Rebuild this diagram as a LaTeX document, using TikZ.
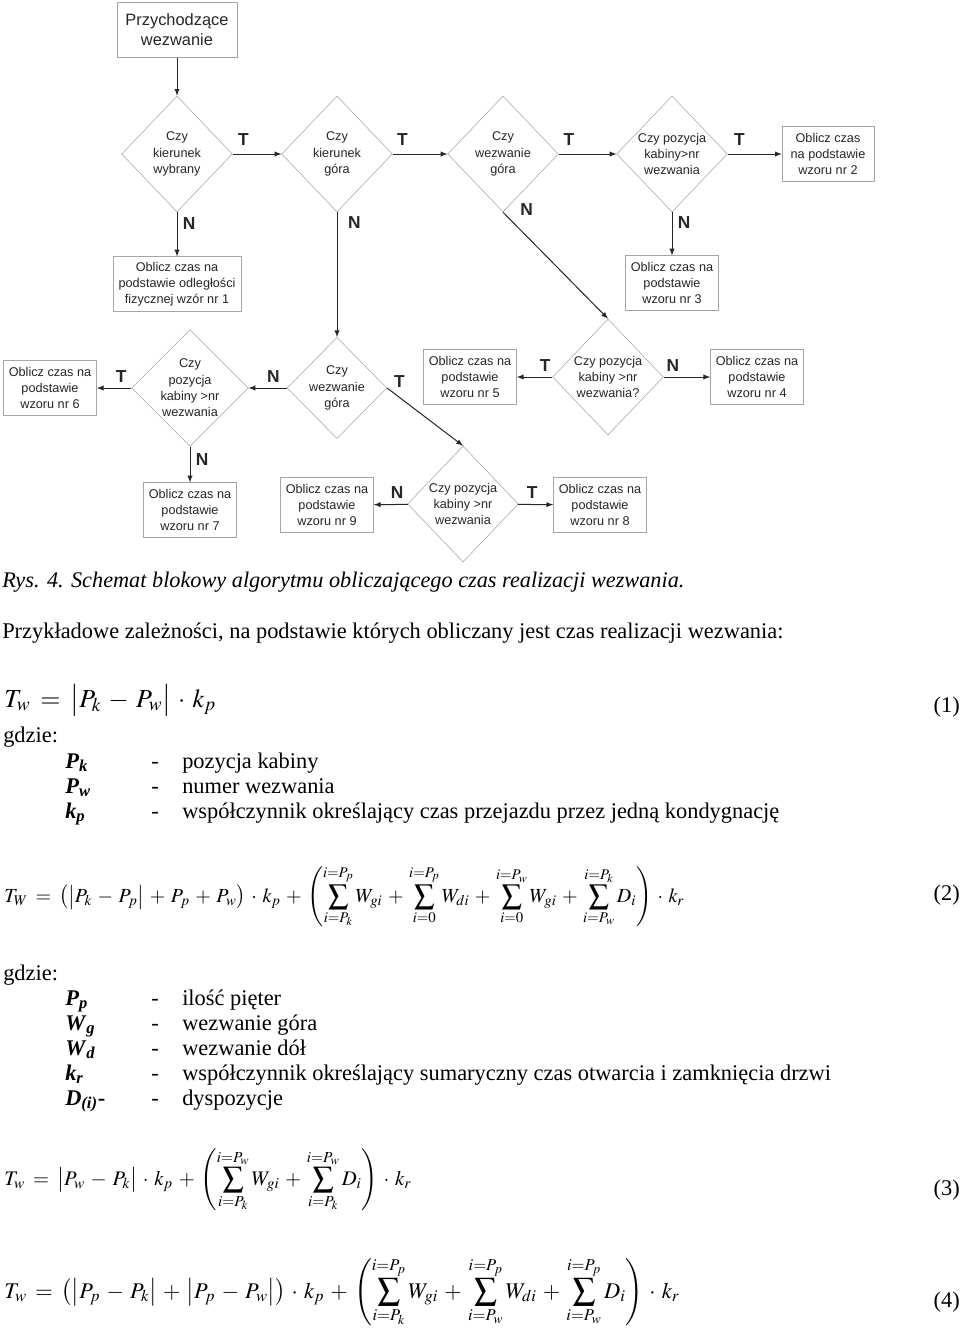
\documentclass[tikz,border=0pt]{standalone}
\usepackage{mathptmx}
\usepackage{fontspec}
\setmainfont{Liberation Serif}
\newfontfamily\diagfont{Liberation Sans}
\usepackage{xcolor}
\usetikzlibrary{shapes.geometric, arrows, positioning}

\newcommand{\legsym}[2]{\textbf{\textit{#1}}\textsubscript{\textbf{\textit{#2}}}}
\newcommand{\wideops}{\thickmuskip=7mu plus 2mu\medmuskip=5mu plus 2mu}

\begin{document}
\begin{tikzpicture}[
    x=0.75pt, y=-0.75pt,
    block/.style={rectangle, draw=gray!70, font=\diagfont\fontsize{9.5}{12.2}\selectfont, text=black!85, align=center, minimum width=69pt, minimum height=41pt, inner xsep=4pt},
    decision/.style={diamond, draw=gray!70, font=\diagfont\fontsize{9.5}{12.2}\selectfont, text=black!85, align=center, inner sep=0pt, minimum width=83pt, minimum height=87pt},
    line/.style={draw, -latex, line width=0.75pt, black!85},
    yn/.style={font=\diagfont\fontsize{13}{15}\selectfont\bfseries, inner sep=2pt},
    txt/.style={anchor=base west, inner sep=0pt, font=\fontsize{16.8}{19}\selectfont},
    eqno/.style={anchor=east, inner sep=0pt, font=\fontsize{16.8}{19}\selectfont}
]
    \fill[white] (0,0) rectangle (960,1331);
    \useasboundingbox (0,0) rectangle (960,1331);

    % Nodes - row 1
    \node [block, font=\diagfont\fontsize{12.3}{15}\selectfont, minimum width=90pt] (start) at (177,30) {Przychodzące\\wezwanie};
    \node [decision] (dirset) at (177,154) {Czy\\kierunek\\wybrany};
    \node [decision] (dirup) at (337,154) {Czy\\kierunek\\góra};
    \node [decision] (callup) at (503,154) {Czy\\wezwanie\\góra};
    \node [decision] (cababove) at (672,154) {Czy pozycja\\kabiny>nr\\wezwania};
    \node [block] (f2) at (828,154) {Oblicz czas\\na podstawie\\wzoru nr 2};

    % Nodes - row 2
    \node [block] (f1) at (177,284) {Oblicz czas na\\podstawie odległości\\fizycznej wzór nr 1};
    \node [block] (f3) at (672,283) {Oblicz czas na\\podstawie\\wzoru nr 3};

    % Nodes - row 3
    \node [block] (f6) at (50,388) {Oblicz czas na\\podstawie\\wzoru nr 6};
    \node [decision] (cababoveA) at (190,388) {Czy\\pozycja\\kabiny >nr\\wezwania};
    \node [decision, minimum width=73pt, minimum height=76pt] (callupB) at (337,388) {Czy\\wezwanie\\góra};
    \node [block] (f5) at (470,377) {Oblicz czas na\\podstawie\\wzoru nr 5};
    \node [decision] (cababoveC) at (608,377) {Czy pozycja\\kabiny >nr\\wezwania?};
    \node [block] (f4) at (757,377) {Oblicz czas na\\podstawie\\wzoru nr 4};

    % Nodes - row 4
    \node [block] (f7) at (190,510) {Oblicz czas na\\podstawie\\wzoru nr 7};
    \node [block] (f9) at (327,505) {Oblicz czas na\\podstawie\\wzoru nr 9};
    \node [decision] (cababoveD) at (463,504) {Czy pozycja\\kabiny >nr\\wezwania};
    \node [block] (f8) at (600,505) {Oblicz czas na\\podstawie\\wzoru nr 8};

    % Paths
    \path [line] (start) -- (dirset);
    \path [line] (dirset) -- node[yn, pos=0.22, above=4pt] {T} (dirup);
    \path [line] (dirup) -- node[yn, pos=0.18, above=4pt] {T} (callup);
    \path [line] (callup) -- node[yn, pos=0.18, above=4pt] {T} (cababove);
    \path [line] (cababove) -- node[yn, pos=0.22, above=4pt] {T} (f2);
    \path [line] (dirset) -- node[yn, pos=0.26, right=2pt] {N} (f1);
    \path [line] (dirup) -- node[yn, pos=0.08, right=6pt] {N} (callupB);
    \path [line] (callup.south) -- node[yn, pos=0.06, above right=0pt and 6pt] {N} (cababoveC.north);
    \path [line] (cababove) -- node[yn, pos=0.23, right=2pt] {N} (f3);
    \path [line] (callupB) -- node[yn, pos=0.35, above=2pt] {N} (cababoveA);
    \path [line] (callupB.east) -- node[yn, pos=0.05, above right] {T} (cababoveD.north);
    \path [line] (cababoveA) -- node[yn, pos=0.3, above=2pt] {T} (f6);
    \path [line] (cababoveA) -- node[yn, pos=0.35, right=2pt] {N} (f7);
    \path [line] (cababoveC) -- node[yn, pos=0.2, above=2pt] {T} (f5);
    \path [line] (cababoveC) -- node[yn, pos=0.2, above=2pt] {N} (f4);
    \path [line] (cababoveD) -- node[yn, pos=0.31, above=2pt] {N} (f9);
    \path [line] (cababoveD) -- node[yn, pos=0.4, above=2pt] {T} (f8);

    % Caption and text
    \node [txt, font=\fontsize{16.7}{19}\selectfont\itshape] (caption) at (2,587) {Rys. 4. Schemat blokowy algorytmu obliczającego czas realizacji wezwania.};
    \node [txt] (intro) at (2,638) {Przykładowe zależności, na podstawie których obliczany jest czas realizacji wezwania:};

    % Equation 1
    \node [txt, font=\fontsize{19.5}{24}\selectfont\wideops] (eqone) at (4,707) {$T_w = \bigl|P_k - P_w\bigr| \cdot k_p$};
    \node [eqno] (numone) at (960,707) {(1)};
    \node [txt] (whereone) at (3,742) {gdzie:};
    \node [txt] (pk) at (65,768) {\legsym{P}{k}};
    \node [txt] (pkdash) at (151,768) {-};
    \node [txt] (pktext) at (182,768) {pozycja kabiny};
    \node [txt] (pw) at (65,793) {\legsym{P}{w}};
    \node [txt] (pwdash) at (151,793) {-};
    \node [txt] (pwtext) at (182,793) {numer wezwania};
    \node [txt] (kp) at (65,818) {\legsym{k}{p}};
    \node [txt] (kpdash) at (151,818) {-};
    \node [txt] (kptext) at (182,818) {współczynnik określający czas przejazdu przez jedną kondygnację};

    % Equation 2
    \node [txt, font=\fontsize{15}{18}\selectfont\wideops] (eqtwo) at (4,902) {$\displaystyle T_W = \bigl(\bigl|P_k - P_p\bigr| + P_p + P_w\bigr)\cdot k_p + \left(\sum_{i=P_k}^{i=P_p} W_{gi} + \sum_{i=0}^{i=P_p} W_{di} + \sum_{i=0}^{i=P_w} W_{gi} + \sum_{i=P_w}^{i=P_k} D_i \right)\cdot k_r$};
    \node [eqno] (numtwo) at (960,895) {(2)};
    \node [txt] (wheretwo) at (3,980) {gdzie:};
    \node [txt] (pp) at (65,1005) {\legsym{P}{p}};
    \node [txt] (ppdash) at (151,1005) {-};
    \node [txt] (pptext) at (182,1005) {ilość pięter};
    \node [txt] (wg) at (65,1030) {\legsym{W}{g}};
    \node [txt] (wgdash) at (151,1030) {-};
    \node [txt] (wgtext) at (182,1030) {wezwanie góra};
    \node [txt] (wd) at (65,1055) {\legsym{W}{d}};
    \node [txt] (wddash) at (151,1055) {-};
    \node [txt] (wdtext) at (182,1055) {wezwanie dół};
    \node [txt] (kr) at (65,1080) {\legsym{k}{r}};
    \node [txt] (krdash) at (151,1080) {-};
    \node [txt] (krtext) at (182,1080) {współczynnik określający sumaryczny czas otwarcia i zamknięcia drzwi};
    \node [txt] (di) at (65,1105) {\legsym{D}{(i)}\textbf{-}};
    \node [txt] (didash) at (151,1105) {-};
    \node [txt] (ditext) at (182,1105) {dyspozycje};

    % Equation 3
    \node [txt, font=\fontsize{15.5}{20}\selectfont\wideops] (eqthree) at (4,1185) {$\displaystyle T_w = \bigl|P_w - P_k\bigr| \cdot k_p + \left(\sum_{i=P_k}^{i=P_w} W_{gi} + \sum_{i=P_k}^{i=P_w} D_i \right)\cdot k_r$};
    \node [eqno] (numthree) at (960,1190) {(3)};

    % Equation 4
    \node [txt, font=\fontsize{16.8}{21}\selectfont\wideops] (eqfour) at (4,1298) {$\displaystyle T_w = \bigl(\bigl|P_p - P_k\bigr| + \bigl|P_p - P_w\bigr|\bigr)\cdot k_p + \left(\sum_{i=P_k}^{i=P_p} W_{gi} + \sum_{i=P_w}^{i=P_p} W_{di} + \sum_{i=P_w}^{i=P_p} D_i \right)\cdot k_r$};
    \node [eqno] (numfour) at (960,1302) {(4)};
\end{tikzpicture}
\end{document}
